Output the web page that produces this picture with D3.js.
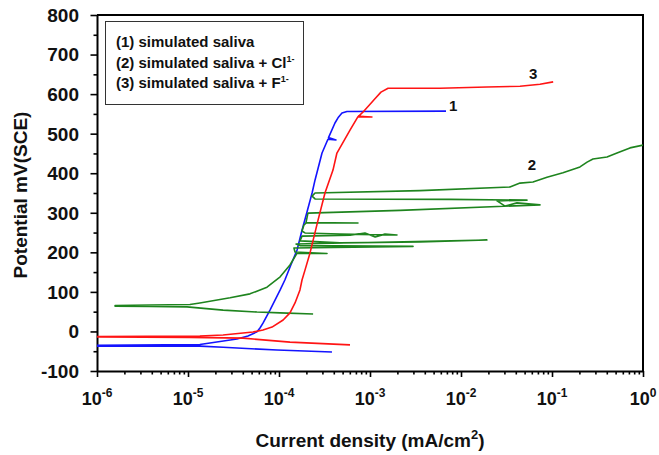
<!DOCTYPE html>
<html>
<head>
<meta charset="utf-8">
<script src="https://cdn.jsdelivr.net/npm/d3@7"></script>
<style>
body { margin: 0; background: #fff; }
text { font-family: "Liberation Sans", Arial, sans-serif; font-weight: bold; fill: #111; }
</style>
</head>
<body>
<div id="chart"></div>
<script>

// [current density mA/cm2, potential mV]
var saliva = [
	[3.82e-4,-52],[9.51e-5,-47],[2.43e-5,-40],[1.35e-5,-37],[1e-6,-37],
	[1e-6,-35],[1.35e-5,-33],[3.45e-5,-19],[4.56e-5,-11.5],[5.73e-5,-1],[6.18e-5,8.7],
	[6.67e-5,21],[7.96e-5,54],[1.03e-4,105],[1.16e-4,130],[1.35e-4,168],[1.58e-4,206],
	[1.79e-4,256],[2.03e-4,302],[2.31e-4,350],[2.49e-4,383],[2.97e-4,451],[3.45e-4,486],
	[4.23e-4,484],[3.5e-4,490],[4.12e-4,527],[4.45e-4,540],[4.92e-4,552],[5.58e-4,556],
	[6.84e-3,557]
];

var salivaCl = [
	[2.37e-4,44],[1.03e-4,47],[5.73e-5,49],[2.43e-5,54],[9.75e-6,62],[3.82e-6,63],[1.58e-6,64],
	[1.58e-6,65.5],[3.82e-6,67],[1.05e-5,68],[1.35e-5,72],[2.9e-5,85],[4.8e-5,95],[7.38e-5,112],
	[1.03e-4,138],[1.32e-4,168],[1.58e-4,198],[3.37e-4,197],[1.5e-4,201],[1.46e-4,211],
	[2.97e-3,215],[1.7e-4,217],[1.54e-4,221],[1.93e-2,231],[3.54e-3,226],[4.68e-4,224],
	[1.7e-4,229],[1.79e-4,241],[6.03e-4,243],[8.81e-4,249],[1.14e-3,239],[1.46e-3,246],
	[1.98e-3,244],[4.68e-4,246],[1.93e-4,249],[1.79e-4,254],[1.88e-4,269],[1.98e-4,274],
	[7.38e-4,274],[1.98e-4,275],[2.03e-4,287],[2.08e-4,299],[2.14e-3,306],[7.38e-2,320],
	[4.12e-2,325],[3.05e-2,317],[2.49e-2,330],[5.31e-2,332],[7.57e-3,334],[2.49e-4,335],
	[2.31e-4,342],[2.49e-4,350],[3.54e-3,356],[3.45e-2,365],[4.45e-2,375],[6.18e-2,378],
	[8.81e-2,390],[0.132,401],[0.203,416],[0.243,428],[0.282,436],[0.402,441],[0.518,451],
	[0.719,464],[1.0,471]
];

var salivaF = [
	[6.03e-4,-34],[1.32e-4,-27],[4.02e-5,-17],[1.05e-5,-15],[1e-6,-14],
	[1e-6,-13],[1.35e-5,-11.5],[2.43e-5,-9],[5.18e-5,-1.5],[6.67e-5,3.6],[8.38e-5,11],
	[1.11e-4,29],[1.32e-4,47],[1.5e-4,72],[1.7e-4,105],[1.79e-4,130],[1.93e-4,155],
	[2.19e-4,198],[2.69e-4,282],[3.2e-4,350],[3.92e-4,408],[4.33e-4,451],[6.03e-4,509],
	[7.38e-4,543],[1.05e-3,542],[7.5e-4,544],[8.4e-4,555],[1.14e-3,589],[1.32e-3,605],
	[1.58e-3,615],[5.87e-3,615],[1.93e-2,618],[4.45e-2,620],[7.38e-2,625],[0.103,631]
];

var seriesColors = [ '#1414ff', '#1e841e', '#ff1414' ];
var curveTags = [ '1', '2', '3' ];
var tagCurrent = [ 8.2e-3, 6.0e-2, 6.2e-2 ];
var tagPotential = [ 572, 421, 653 ];

var legendText = [ '(1) simulated saliva', '(2) simulated saliva + Cl', '(3) simulated saliva + F' ];
var legendSup = [ '', '1-', '1-' ];

var xTickValues = [ 1e-6, 1e-5, 1e-4, 1e-3, 1e-2, 1e-1, 1 ];
var xTickExp = [ '-6', '-5', '-4', '-3', '-2', '-1', '0' ];
var yTickValues = [ -100, 0, 100, 200, 300, 400, 500, 600, 700, 800 ];
var yMinorValues = [ -50, 50, 150, 250, 350, 450, 550, 650, 750 ];

var canvas_size = { width: 659, height: 455 };
var plot = { left: 97, right: 643, top: 15, bottom: 371 };

var svg = d3.select( '#chart' )
	.append( 'svg' )
		.attr( 'width', canvas_size.width )
		.attr( 'height', canvas_size.height );

var x = d3.scaleLog().domain( [1e-6, 1] ).range( [plot.left, plot.right] );
var y = d3.scaleLinear().domain( [-100, 800] ).range( [plot.bottom, plot.top] );

svg.append( 'clipPath' ).attr( 'id', 'clip' )
	.append( 'rect' )
		.attr( 'x', plot.left ).attr( 'y', plot.top )
		.attr( 'width', plot.right - plot.left ).attr( 'height', plot.bottom - plot.top );

// minor x ticks: 2..9 in every decade
var xMinor = [];
xTickValues.slice( 0, -1 ).forEach( function( d ) {
	for( var k = 2; k < 10; k++ ) xMinor.push( d * k );
});

var xAxis = svg.append( 'g' ).attr( 'transform', 'translate(0,' + plot.bottom + ')' );
xAxis.call( d3.axisBottom( x ).tickValues( xMinor ).tickSize( 3.5 ).tickSizeOuter( 0 ).tickFormat( '' ) );
xAxis.append( 'g' ).call( d3.axisBottom( x ).tickValues( xTickValues ).tickSize( 6 ).tickFormat( '' ) )
	.select( '.domain' ).remove();

var yAxis = svg.append( 'g' ).attr( 'transform', 'translate(' + plot.left + ',0)' );
yAxis.call( d3.axisLeft( y ).tickValues( yMinorValues ).tickSize( 3.5 ).tickSizeOuter( 0 ).tickFormat( '' ) );
yAxis.append( 'g' ).call( d3.axisLeft( y ).tickValues( yTickValues ).tickSize( 6.5 ).tickFormat( '' ) )
	.select( '.domain' ).remove();

svg.selectAll( '.domain' ).attr( 'stroke', '#000' ).attr( 'stroke-width', 2 );
svg.selectAll( '.tick line' ).attr( 'stroke', '#000' ).attr( 'stroke-width', 1.6 );

// top and right frame
svg.append( 'path' )
	.attr( 'd', 'M' + plot.left + ',' + plot.top + 'H' + plot.right + 'V' + plot.bottom )
	.attr( 'fill', 'none' ).attr( 'stroke', '#000' ).attr( 'stroke-width', 2 );

// tick labels
svg.selectAll( '.ylab' ).data( yTickValues ).enter()
	.append( 'text' )
		.attr( 'class', 'ylab' )
		.attr( 'x', 79 )
		.attr( 'y', function( d ) { return y( d ); } )
		.attr( 'dy', '0.36em' )
		.attr( 'text-anchor', 'end' )
		.style( 'font-size', '19px' )
		.text( function( d ) { return d; } );

var xl = svg.selectAll( '.xlab' ).data( xTickValues ).enter()
	.append( 'text' )
		.attr( 'class', 'xlab' )
		.attr( 'x', function( d ) { return x( d ); } )
		.attr( 'y', 405 )
		.attr( 'text-anchor', 'middle' )
		.style( 'font-size', '18px' );
xl.append( 'tspan' ).text( '10' );
xl.append( 'tspan' ).attr( 'dy', -8 ).style( 'font-size', '12px' )
	.text( function( d, i ) { return xTickExp[i]; } );

// axis titles
var xt = svg.append( 'text' )
	.attr( 'x', 370 ).attr( 'y', 447 )
	.attr( 'text-anchor', 'middle' )
	.style( 'font-size', '19px' );
xt.append( 'tspan' ).text( 'Current density (mA/cm' );
xt.append( 'tspan' ).attr( 'dy', -8 ).style( 'font-size', '13px' ).text( '2' );
xt.append( 'tspan' ).attr( 'dy', 8 ).text( ')' );

svg.append( 'text' )
	.attr( 'transform', 'translate(27,195) rotate(-90)' )
	.attr( 'text-anchor', 'middle' )
	.style( 'font-size', '19px' )
	.text( 'Potential mV(SCE)' );

// curves
var line = d3.line()
	.x( function( d ) { return x( d[0] ); } )
	.y( function( d ) { return y( d[1] ); } );

var curves = svg.append( 'g' ).attr( 'clip-path', 'url(#clip)' );
[ saliva, salivaCl, salivaF ].forEach( function( s, i ) {
	curves.append( 'path' )
		.datum( s )
		.attr( 'd', line )
		.attr( 'fill', 'none' )
		.attr( 'stroke', seriesColors[i] )
		.attr( 'stroke-width', 1.6 )
		.attr( 'stroke-linejoin', 'round' );
});

svg.selectAll( '.tag' ).data( curveTags ).enter()
	.append( 'text' )
		.attr( 'class', 'tag' )
		.attr( 'x', function( d, i ) { return x( tagCurrent[i] ); } )
		.attr( 'y', function( d, i ) { return y( tagPotential[i] ); } )
		.attr( 'dy', '0.36em' )
		.attr( 'text-anchor', 'middle' )
		.style( 'font-size', '15px' )
		.text( function( d ) { return d; } );

// legend
var legend = svg.append( 'g' );
legend.append( 'rect' )
	.attr( 'x', 105.5 ).attr( 'y', 21.5 )
	.attr( 'width', 198 ).attr( 'height', 83 )
	.attr( 'fill', '#fff' ).attr( 'stroke', '#333' ).attr( 'stroke-width', 1 );

var lt = legend.selectAll( '.leg' ).data( legendText ).enter()
	.append( 'text' )
		.attr( 'class', 'leg' )
		.attr( 'x', 116 )
		.attr( 'y', function( d, i ) { return 47 + i * 20.5; } )
		.style( 'font-size', '15px' );
lt.append( 'tspan' ).text( function( d ) { return d; } );
lt.append( 'tspan' ).attr( 'dy', -6 ).style( 'font-size', '9px' )
	.text( function( d, i ) { return legendSup[i]; } );

</script>
</body>
</html>
